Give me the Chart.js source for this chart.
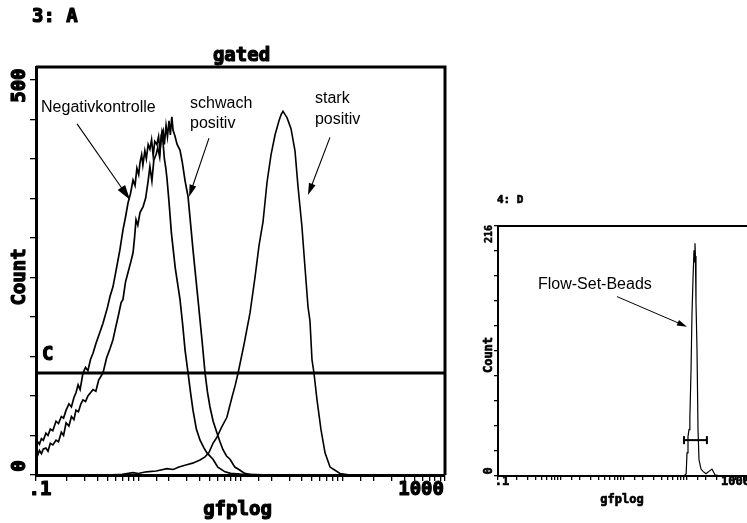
<!DOCTYPE html>
<html><head><meta charset="utf-8">
<script src="https://cdn.jsdelivr.net/npm/chart.js@4"></script>
<style>
html,body{margin:0;padding:0;background:#fff;overflow:hidden;width:747px;height:523px;}
#c1{position:absolute;left:0;top:0;}
#c2{position:absolute;left:470px;top:180px;}
</style></head><body>
<canvas id="c1" width="460" height="523"></canvas>
<canvas id="c2" width="290" height="343"></canvas>
<script>
// ---------- Data: panel 3 (A) ----------
const negKontrolleX = [0.1,0.104,0.108,0.113,0.118,0.125,0.131,0.138,0.146,0.157,0.166,0.177,0.186,0.197,0.21,0.222,0.235,0.246,0.258,0.27,0.288,0.305,0.322,0.341,0.361,0.385,0.41,0.452,0.5,0.53,0.566,0.62,0.66,0.709,0.75,0.794,0.84,0.889,0.93,0.97,1.01,1.04,1.08,1.11,1.16,1.2,1.25,1.3,1.35,1.4,1.45,1.52,1.58,1.63,1.7,1.75,1.8,1.86,1.91,2.0,2.11,2.3,2.56,2.72,2.87,3.07,3.25,3.43,3.7,4.02,4.4,4.7,5.38,6.0,7.06,8.0,10,20,1000];
const negKontrolleY = [36,42,39,46,44,53,50,58,56,68,65,74,72,82,90,86,98,104,114,108,129,136,132,146,154,166,176,192,212,226,238,265,284,310,326,344,356,373,366,388,380,395,405,392,410,400,418,412,424,404,422,418,428,410,432,420,400,388,375,345,306,262,222,190,158,129,104,82,58,44,34,28,20,10,4,2,1,0,0];

const schwachX = [0.1,0.104,0.108,0.113,0.118,0.125,0.131,0.138,0.146,0.157,0.166,0.177,0.186,0.197,0.21,0.222,0.235,0.246,0.26,0.275,0.288,0.305,0.322,0.341,0.361,0.385,0.41,0.452,0.49,0.53,0.566,0.6,0.64,0.68,0.709,0.75,0.794,0.84,0.889,0.92,0.951,0.99,1.04,1.113,1.18,1.25,1.3,1.36,1.42,1.5,1.55,1.62,1.68,1.75,1.8,1.87,1.93,2.0,2.06,2.13,2.19,2.27,2.4,2.56,2.7,2.87,3.07,3.43,3.84,4.2,4.5,4.75,5.03,5.4,5.89,6.3,6.74,7.3,7.9,8.8,9.9,11,13,1000];
const schwachY = [29,25,31,27,33,34,30,40,38,44,42,54,50,66,62,74,70,82,80,90,95,93,100,104,108,106,120,129,148,160,171,186,202,218,222,244,256,268,281,300,323,316,332,339,350,372,390,372,398,406,414,402,430,436,418,442,428,448,430,453,436,430,418,411,395,372,352,285,222,171,129,105,86,68,53,42,32,24,20,10,6,2,0,0];

const starkX = [0.1,0.5,0.7,0.89,1.0,1.2,1.5,1.91,2.2,2.5,2.98,3.4,4.02,4.5,4.9,5.38,5.9,6.5,7.36,7.8,8.28,8.9,9.47,10.82,12.39,13.86,15.17,16.6,18.17,19.88,21.75,23.79,25.0,26.04,27.2,28.5,31.18,34.12,36.5,39.9,42.7,45.7,47.8,50.0,52.3,56.0,61.3,67.1,75.1,84.0,94,118,1000];
const starkY = [0,0,1,3,2,4,5,8,7,10,13,15,19,23,28,40,48,60,73,86,99,114,129,165,205,250,290,320,370,405,430,448,456,460,456,452,438,410,365,314,263,213,195,146,129,95,57,28,10,6,2,0,0];

const markerCRange = [0.1, 1000];
const markerCLevel = 129;

// ---------- Data: panel 4 (D) ----------
const beadsX = [0.1,90,97,100,103.7,107.6,111,115.7,120,124.5,129.1,131,133.9,136,138.9,144.1,149.5,155.1,166.8,179.5,200,223,249,278,334,1000];
const beadsY = [0,0,2,20,34,40,50,90,140,170,195,185,201,190,150,110,40,14,6,4,2,4,6,1,0,0];
const markerM1Range = [89.5, 207];
const markerM1Level = 31;

// axis settings
const axisA = {xMin:0.1, xMax:1000, yMax:516, yStep:50, yLabels:['0','500'], yLabelVals:[0,500], xLabels:['.1','1000'], xLabelVals:[0.1,1000]};
const axisD = {xMin:0.1, xMax:1000, yMax:216, yStep:21.6, yLabels:['0','216'], yLabelVals:[0,216], xLabels:['.1','1000'], xLabelVals:[0.1,1000]};

const zip = (xs, ys) => xs.map((x,i)=>({x, y: ys[i]}));

function arrow(ctx, x1, y1, x2, y2, hl, hw) {
  const a = Math.atan2(y2-y1, x2-x1), c=Math.cos(a), s=Math.sin(a);
  ctx.beginPath(); ctx.moveTo(x1,y1); ctx.lineTo(x2 - hl*0.7*c, y2 - hl*0.7*s); ctx.stroke();
  ctx.beginPath(); ctx.moveTo(x2,y2);
  ctx.lineTo(x2 - hl*c + hw/2*s, y2 - hl*s - hw/2*c);
  ctx.lineTo(x2 - hl*c - hw/2*s, y2 - hl*s + hw/2*c);
  ctx.closePath(); ctx.fill();
}

// heavy text (mimics bold bitmap font)
function heavy(ctx, txt, x, y, w) {
  ctx.fillText(txt, x, y);
  ctx.save(); ctx.lineWidth = w || 1; ctx.lineJoin = 'round'; ctx.strokeText(txt, x, y); ctx.restore();
}

function rotText(ctx, txt, x, y, w) {
  ctx.save(); ctx.translate(x, y); ctx.rotate(-Math.PI/2);
  ctx.textAlign = 'center'; ctx.textBaseline = 'middle';
  heavy(ctx, txt, 0, 0, w); ctx.restore();
}

function makeOptions(ax, padding, yW, xH, bw, tl) {
  return {
    responsive: false, animation: false,
    layout: {padding},
    plugins: {legend: {display: false}, tooltip: {enabled: false}},
    elements: {point: {radius: 0}, line: {tension: 0}},
    scales: {
      x: {type: 'logarithmic', min: ax.xMin, max: ax.xMax,
          ticks: {display: false},
          grid: {drawOnChartArea: false, drawTicks: true, tickLength: tl, color: '#000', lineWidth: 1.3},
          border: {display: true, color: '#000', width: bw},
          afterFit: s => { s.height = xH; }},
      y: {type: 'linear', min: 0, max: ax.yMax,
          ticks: {display: false, stepSize: ax.yStep, includeBounds: false},
          grid: {drawOnChartArea: false, drawTicks: true, tickLength: tl, color: '#000', lineWidth: 1.3},
          border: {display: true, color: '#000', width: bw},
          afterFit: s => { s.width = yW; }}
    }
  };
}

const MONO = '"DejaVu Sans Mono", "Liberation Mono", monospace';
const SANS = '"Liberation Sans", Arial, sans-serif';

// ---------- Chart A ----------
const annoA = {
  texts: [
    {t:'Negativkontrolle', x:0.112, y:459},
    {t:'schwach', x:3.21, y:464}, {t:'positiv', x:3.21, y:439},
    {t:'stark', x:53.5, y:470}, {t:'positiv', x:53.5, y:444}
  ],
  arrows: [
    {x1:0.252, y1:444, x2:0.83, y2:348, hl:15, hw:9},
    {x1:4.92, y1:426, x2:3.14, y2:352, hl:12, hw:7},
    {x1:75, y1:427, x2:45.7, y2:354, hl:12, hw:7}
  ],
  markerLabel: {t:'C', x:0.1145, y:145}
};

const pluginA = {
  id: 'decorA',
  afterDraw(chart) {
    const {ctx, chartArea: ca, scales: {x, y}} = chart;
    ctx.save();
    ctx.fillStyle = '#000'; ctx.strokeStyle = '#000';
    ctx.lineWidth = 3;
    ctx.beginPath(); ctx.moveTo(ca.left, ca.top); ctx.lineTo(ca.right, ca.top); ctx.lineTo(ca.right, ca.bottom); ctx.stroke();
    ctx.font = 'bold 19px ' + MONO; ctx.textBaseline = 'middle';
    ctx.textAlign = 'left'; heavy(ctx, '3: A', 32, 17, 1.2);
    ctx.textAlign = 'center'; heavy(ctx, 'gated', (ca.left+ca.right)/2 + 1, 56, 1.2);
    heavy(ctx, 'gfplog', (ca.left+ca.right)/2 - 3, 510, 1.2);
    ctx.textAlign = 'center'; heavy(ctx, axisA.xLabels[0], x.getPixelForValue(axisA.xLabelVals[0]) + 4, 490, 1.2);
    ctx.textAlign = 'right'; heavy(ctx, axisA.xLabels[1], x.getPixelForValue(axisA.xLabelVals[1]) - 1, 490, 1.2);
    rotText(ctx, axisA.yLabels[0], 20, y.getPixelForValue(axisA.yLabelVals[0]) - 9, 1.2);
    rotText(ctx, axisA.yLabels[1], 20, y.getPixelForValue(axisA.yLabelVals[1]) + 6, 1.2);
    rotText(ctx, 'Count', 20, 277, 1.2);
    ctx.textAlign = 'left'; ctx.textBaseline = 'alphabetic';
    heavy(ctx, annoA.markerLabel.t, x.getPixelForValue(annoA.markerLabel.x), y.getPixelForValue(annoA.markerLabel.y), 1.2);
    ctx.font = '16px ' + SANS;
    annoA.texts.forEach(a => ctx.fillText(a.t, x.getPixelForValue(a.x), y.getPixelForValue(a.y)));
    ctx.lineWidth = 1.1;
    annoA.arrows.forEach(a => arrow(ctx, x.getPixelForValue(a.x1), y.getPixelForValue(a.y1), x.getPixelForValue(a.x2), y.getPixelForValue(a.y2), a.hl, a.hw));
    ctx.restore();
  }
};

new Chart(document.getElementById('c1'), {
  type: 'line',
  data: {datasets: [
    {label: 'Negativkontrolle', data: zip(negKontrolleX, negKontrolleY), borderColor: '#000', borderWidth: 1.7, pointRadius: 0},
    {label: 'schwach positiv', data: zip(schwachX, schwachY), borderColor: '#000', borderWidth: 1.7, pointRadius: 0},
    {label: 'stark positiv', data: zip(starkX, starkY), borderColor: '#000', borderWidth: 1.6, pointRadius: 0},
    {label: 'C', data: markerCRange.map(v => ({x: v, y: markerCLevel})), borderColor: '#000', borderWidth: 3,
     pointStyle: 'line', rotation: 90, pointRadius: 6, pointBorderWidth: 2}
  ]},
  options: makeOptions(axisA, {top: 67, right: 15, left: 0, bottom: 0}, 36, 48, 3, 6),
  plugins: [pluginA]
});

// ---------- Chart D ----------
const annoD = {
  text: {t:'Flow-Set-Beads', x:0.431, y:162},
  arrow: {x1:7.74, y1:155, x2:100, y2:129, hl:10, hw:6}
};

const pluginD = {
  id: 'decorD',
  afterDraw(chart) {
    const {ctx, chartArea: ca, scales: {x, y}} = chart;
    ctx.save();
    ctx.fillStyle = '#000'; ctx.strokeStyle = '#000';
    ctx.lineWidth = 2;
    ctx.beginPath(); ctx.moveTo(ca.left, ca.top); ctx.lineTo(ca.right, ca.top); ctx.lineTo(ca.right, ca.bottom); ctx.stroke();
    ctx.font = 'bold 11px ' + MONO; ctx.textBaseline = 'middle';
    ctx.textAlign = 'left'; heavy(ctx, '4: D', 27, 20, 0.6);
    ctx.font = 'bold 12px ' + MONO;
    ctx.textAlign = 'center'; heavy(ctx, 'gfplog', 152, 320, 0.7);
    heavy(ctx, axisD.xLabels[0], x.getPixelForValue(axisD.xLabelVals[0]) + 4, 302, 0.7);
    ctx.textAlign = 'right'; heavy(ctx, axisD.xLabels[1], x.getPixelForValue(axisD.xLabelVals[1]), 302, 0.7);
    rotText(ctx, 'Count', 19, 175, 0.7);
    rotText(ctx, axisD.yLabels[0], 19, y.getPixelForValue(axisD.yLabelVals[0]) - 5, 0.7);
    ctx.font = 'bold 10px ' + MONO;
    rotText(ctx, axisD.yLabels[1], 19, y.getPixelForValue(axisD.yLabelVals[1]) + 8, 0.5);
    ctx.font = '16px ' + SANS; ctx.textAlign = 'left'; ctx.textBaseline = 'alphabetic';
    ctx.fillText(annoD.text.t, x.getPixelForValue(annoD.text.x), y.getPixelForValue(annoD.text.y));
    ctx.lineWidth = 1;
    const a = annoD.arrow;
    arrow(ctx, x.getPixelForValue(a.x1), y.getPixelForValue(a.y1), x.getPixelForValue(a.x2), y.getPixelForValue(a.y2), a.hl, a.hw);
    ctx.restore();
  }
};

new Chart(document.getElementById('c2'), {
  type: 'line',
  data: {datasets: [
    {label: 'Flow-Set-Beads', data: zip(beadsX, beadsY), borderColor: '#000', borderWidth: 1.2, pointRadius: 0},
    {label: 'M1', data: markerM1Range.map(v => ({x: v, y: markerM1Level})), borderColor: '#000', borderWidth: 2,
     pointStyle: 'line', rotation: 90, pointRadius: 4, pointBorderWidth: 2}
  ]},
  options: makeOptions(axisD, {top: 46, right: 10, left: 0, bottom: 0}, 28, 47, 2, 4),
  plugins: [pluginD]
});
</script>
</body></html>
